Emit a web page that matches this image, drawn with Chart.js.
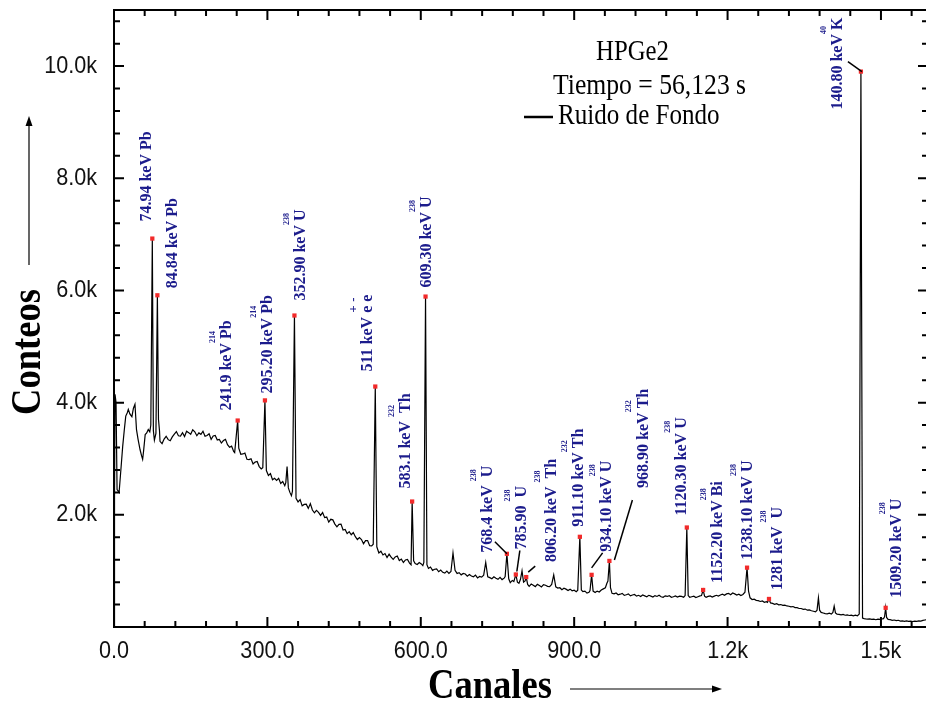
<!DOCTYPE html>
<html>
<head>
<meta charset="utf-8">
<script src="https://cdn.jsdelivr.net/npm/chart.js@4.4.0/dist/chart.umd.min.js"></script>
<style>
  html, body { margin: 0; padding: 0; background: #fff; overflow: hidden; }
  #wrap { width: 940px; height: 703px; position: relative; }
</style>
</head>
<body>
<div id="wrap"><canvas id="espectro"></canvas></div>
<script>
// Espectro de fondo HPGe2: [canal, conteos]
const espectro = [
  [0, 0], [1, 2300], [2, 4150], [4, 4000], [6, 2450], [10, 2400], [13, 2750], [17, 3220],
  [20, 3500], [23, 3760], [26, 3820], [28, 3880], [31, 3800], [35, 3750], [38, 3900], [41, 3970],
  [44, 3520], [47, 3350], [51, 3160], [54, 3050], [56, 2990], [58, 3150], [61, 3430], [64, 3460],
  [67, 3520], [70, 3480], [72, 3600], [74.94, 6925], [77, 3500], [79, 3330], [82, 3450],
  [84.84, 5914], [87, 3700], [89, 3500],
  [90, 3310], [94, 3270], [98, 3350], [102, 3400], [106, 3340], [110, 3320], [114, 3390],
  [118, 3440], [122, 3485], [126, 3410], [130, 3405], [134, 3465], [138, 3395], [142, 3490],
  [146, 3465], [150, 3435], [154, 3515], [158, 3480], [162, 3410], [166, 3460], [170, 3435],
  [174, 3490], [178, 3400], [182, 3415], [186, 3445], [190, 3345], [194, 3405], [198, 3415],
  [202, 3335], [206, 3345], [210, 3280], [214, 3325], [218, 3345], [222, 3250], [226, 3205],
  [230, 3225], [234, 3130], [236, 3110], [238, 3300], [241.9, 3681],
  [244, 3190], [248, 3080], [252, 3085], [256, 3100], [260, 2990], [264, 2985], [268, 3000],
  [272, 2905], [276, 2940], [280, 2950], [284, 2860], [288, 2820], [291, 2840], [295.2, 4040],
  [298, 2790], [302, 2700], [306, 2735], [310, 2625], [314, 2650], [318, 2615], [322, 2650],
  [326, 2560], [330, 2595], [334, 2520], [336, 2575], [338.5, 2860], [341, 2480], [344, 2400],
  [347, 2340], [349, 2420], [352.9, 5553],
  [356, 2295], [360, 2230], [364, 2270], [368, 2160], [372, 2185], [376, 2190], [380, 2115],
  [384, 2200], [388, 2085], [392, 2035], [396, 2080], [400, 2045], [404, 1990], [408, 2040],
  [412, 1950], [416, 1960], [420, 1870], [424, 1920], [428, 1910], [432, 1835], [436, 1785],
  [440, 1830], [444, 1835], [448, 1730], [452, 1740], [456, 1665], [460, 1700], [464, 1645],
  [468, 1685], [472, 1610], [476, 1560], [480, 1595], [484, 1560], [488, 1485], [492, 1540],
  [496, 1540], [500, 1450], [504, 1445], [507, 1475], [511, 4287],
  [514, 1430], [518, 1320], [522, 1350], [526, 1285], [530, 1310], [534, 1240], [538, 1300],
  [542, 1245], [546, 1205], [550, 1250], [554, 1265], [558, 1185], [562, 1210], [566, 1150],
  [570, 1195], [574, 1205], [578, 1140], [581, 1110], [583.1, 2237],
  [586, 1180], [589, 1130], [593, 1115], [597, 1150], [601, 1125], [604, 1095], [606, 1150],
  [609.3, 5891],
  [612, 1110], [615, 1045], [619, 1070], [623, 1010], [627, 1030], [631, 1035], [635, 985],
  [639, 1015], [643, 975], [647, 960], [651, 995], [655, 955], [659, 990], [663, 1320],
  [667, 1010], [671, 955], [675, 970], [679, 930], [683, 955], [687, 945], [691, 905],
  [695, 935], [699, 910], [703, 895], [707, 925], [711, 875], [715, 900], [719, 890],
  [723, 925], [727, 1150], [731, 895], [735, 880], [739, 860], [743, 895], [747, 870],
  [751, 850], [755, 885], [759, 845], [763, 870], [765, 900], [768.4, 1305], [772, 860],
  [775, 790], [779, 830], [782, 810], [785.9, 936], [789, 800], [792, 780], [795, 850],
  [798, 1000], [801, 800], [804, 820], [806.2, 890],
  [809, 760], [812, 725], [816, 765], [820, 745], [824, 720], [828, 760], [832, 740],
  [836, 715], [840, 755], [844, 745], [848, 725], [852, 720], [856, 760], [860, 930],
  [864, 715], [868, 695], [872, 700], [876, 665], [880, 690], [884, 675], [888, 650],
  [892, 675], [896, 645], [900, 655], [904, 630], [907, 655], [911.1, 1608],
  [914, 660], [917, 630], [921, 640], [925, 605], [929, 620], [931, 650], [934.1, 930],
  [937, 640], [941, 615], [945, 640], [949, 625], [953, 660], [957, 680], [961, 700],
  [964, 780], [966, 820], [968.9, 1178], [971, 700], [974, 600],
  [978, 590], [982, 605], [986, 575], [990, 585], [994, 600], [998, 565], [1002, 575],
  [1006, 590], [1010, 555], [1014, 570], [1018, 580], [1022, 550], [1026, 565], [1030, 545],
  [1034, 570], [1038, 555], [1042, 540], [1046, 565], [1050, 550], [1054, 535], [1058, 560],
  [1062, 545], [1066, 565], [1070, 540], [1074, 530], [1078, 555], [1082, 545], [1086, 560],
  [1090, 530], [1094, 540], [1098, 555], [1102, 535], [1106, 550], [1110, 545], [1114, 530],
  [1117, 560], [1120.3, 1774],
  [1123, 560], [1126, 530], [1130, 540], [1134, 550], [1138, 525], [1142, 540], [1146, 555],
  [1149, 560], [1152.2, 660], [1155, 550], [1158, 530], [1162, 545], [1166, 555], [1170, 535],
  [1174, 550], [1178, 565], [1182, 550], [1186, 570], [1190, 585], [1194, 565], [1198, 590],
  [1202, 600], [1206, 575], [1210, 605], [1214, 590], [1218, 570], [1222, 585], [1226, 560],
  [1230, 580], [1234, 620], [1238.1, 1058], [1241, 640],
  [1244, 520], [1248, 490], [1252, 495], [1256, 475], [1260, 470], [1264, 455], [1268, 465],
  [1272, 440], [1276, 450], [1278, 440], [1281, 500], [1284, 430], [1288, 420], [1292, 405],
  [1296, 415], [1300, 395], [1304, 400], [1308, 385], [1312, 390], [1316, 375], [1320, 370],
  [1324, 360], [1328, 365], [1332, 345], [1336, 345], [1340, 330], [1344, 330], [1348, 315],
  [1352, 320], [1356, 300], [1360, 305], [1364, 290], [1368, 280], [1372, 270], [1375, 300],
  [1377.7, 520], [1380, 300], [1383, 260], [1387, 250], [1391, 240], [1395, 235], [1399, 245],
  [1403, 230], [1406, 260], [1408.5, 371], [1411, 250], [1414, 230], [1418, 225], [1422, 215],
  [1426, 225], [1430, 210], [1434, 215], [1438, 205], [1442, 210], [1446, 200], [1450, 210],
  [1454, 200], [1457.5, 230], [1460.8, 9902], [1464, 160], [1467, 150], [1470, 145],
  [1474, 140], [1478, 145], [1482, 135], [1486, 140], [1490, 130], [1494, 140], [1498, 135],
  [1502, 145], [1505, 150], [1507, 180], [1509.2, 342], [1511, 170], [1514, 135], [1518, 130],
  [1522, 120], [1526, 125], [1530, 115], [1534, 120], [1538, 105], [1542, 110], [1546, 100],
  [1550, 108], [1554, 100], [1558, 106], [1562, 98], [1566, 104], [1570, 100], [1574, 110],
  [1578, 105], [1582, 118], [1586, 125], [1590, 130]
];

// Picos identificados (canal) y su rotulo: texto, superindice, texto...
const energias = [74.94, 84.84, 241.9, 295.2, 352.9, 511, 583.1, 609.3, 768.4, 785.9,
  806.2, 911.1, 934.1, 968.9, 1120.3, 1152.2, 1238.1, 1281, 1460.8, 1509.2];
const rotulos = [
  ['74.94 keV Pb'],
  ['84.84 keV Pb'],
  ['241.9 keV ', '214', 'Pb'],
  ['295.20 keV ', '214', 'Pb'],
  ['352.90 keV ', '238', 'U'],
  ['511 keV e', '+', ' e', '-'],
  ['583.1 keV  ', '232', 'Th'],
  ['609.30 keV ', '238', 'U'],
  ['768.4 keV  ', '238', 'U'],
  ['785.90  ', '238', 'U'],
  ['806.20 keV  ', '238', 'Th'],
  ['911.10 keV ', '232', 'Th'],
  ['934.10 keV ', '238', 'U'],
  ['968.90 keV ', '232', 'Th'],
  ['1120.30 keV ', '238', 'U'],
  ['1152.20 keV ', '238', 'Bi'],
  ['1238.10 keV ', '238', 'U'],
  ['1281 keV  ', '238', 'U'],
  ['140.80 keV ', '40', 'K'],
  ['1509.20 keV ', '238', 'U']
];

const marcasX = [0, 300, 600, 900, 1200, 1500];
const etiquetasX = ['0.0', '300.0', '600.0', '900.0', '1.2k', '1.5k'];
const marcasY = [2000, 4000, 6000, 8000, 10000];
const etiquetasY = ['2.0k', '4.0k', '6.0k', '8.0k', '10.0k'];

// Desplazamiento del rotulo respecto al marcador [dx, dy]
const despl = [
  [-5, -17], [15, -7], [-11, -10], [3, -7], [6, -15], [-7, -15], [-6, -13], [1, -9],
  [-19, -1], [6, -25], [26, -15], [-1, -10], [15, -23], [34, -73], [-5, -12], [15, -7],
  [1, -8], [9, -9], [-23, 38], [11, -10]
];
// Lineas guia: indice del pico, inicio y fin relativos al marcador
const guias = [
  [8, -12, -12, 0, 0],
  [9, 4, -24, 1, -3],
  [10, 9, -11, 2, -5],
  [12, 11, -22, 0, -7],
  [13, 23, -61, 5, -1],
  [18, -13, -10, 1, 0]
];

const AZUL = '#1c1c8c';
const conteo = e => espectro.find(p => p[0] === e)[1];

function texto(ctx, s, x, y, font, align, ang, sx) {
  ctx.save();
  ctx.translate(x, y);
  ctx.rotate(ang || 0);
  ctx.scale(sx || 1, 1);
  ctx.font = font;
  ctx.textAlign = align;
  ctx.textBaseline = 'middle';
  ctx.fillText(s, 0, 0);
  ctx.restore();
}

function flecha(ctx, x1, y1, x2, y2) {
  const a = Math.atan2(y2 - y1, x2 - x1);
  ctx.beginPath();
  ctx.moveTo(x1, y1);
  ctx.lineTo(x2 - 8 * Math.cos(a), y2 - 8 * Math.sin(a));
  ctx.stroke();
  ctx.save();
  ctx.translate(x2, y2);
  ctx.rotate(a);
  ctx.beginPath();
  ctx.moveTo(0, 0);
  ctx.lineTo(-10, -3.5);
  ctx.lineTo(-10, 3.5);
  ctx.closePath();
  ctx.fill();
  ctx.restore();
}

// Marco con marcas hacia dentro en los cuatro lados
const marco = {
  id: 'marco',
  afterDraw(chart) {
    const { ctx, chartArea: a, scales: { x, y } } = chart;
    ctx.save();
    ctx.strokeStyle = '#000';
    ctx.lineWidth = 2;
    ctx.strokeRect(a.left, a.top, a.right - a.left, a.bottom - a.top);
    ctx.beginPath();
    x.ticks.forEach(t => {
      const px = x.getPixelForValue(t.value);
      const l = t.value % 300 === 0 ? 10 : 6;
      ctx.moveTo(px, a.bottom); ctx.lineTo(px, a.bottom - l);
      ctx.moveTo(px, a.top); ctx.lineTo(px, a.top + l);
    });
    y.ticks.forEach(t => {
      const py = y.getPixelForValue(t.value);
      const l = t.value % 2000 === 0 ? 10 : 6;
      ctx.moveTo(a.left, py); ctx.lineTo(a.left + l, py);
      ctx.moveTo(a.right, py); ctx.lineTo(a.right - l, py);
    });
    ctx.stroke();

    ctx.fillStyle = '#111';
    const fuente = '24px "Liberation Sans"';
    marcasX.forEach((v, i) => texto(ctx, etiquetasX[i], x.getPixelForValue(v), a.bottom + 24, fuente, 'center', 0, 0.9));
    marcasY.forEach((v, i) => texto(ctx, etiquetasY[i], a.left - 17, y.getPixelForValue(v), fuente, 'right', 0, 0.9));

    // titulos de ejes con flechas
    ctx.fillStyle = '#000';
    texto(ctx, 'Canales', 490, 687, 'bold 42px "Liberation Serif"', 'center', 0, 0.87);
    texto(ctx, 'Conteos', 29, 352, 'bold 42px "Liberation Serif"', 'center', -Math.PI / 2, 0.87);
    ctx.lineWidth = 1.2;
    flecha(ctx, 570, 689, 722, 689);
    flecha(ctx, 29, 265, 29, 116);

    // encabezado y leyenda
    const serif = '28.5px "Liberation Serif"';
    texto(ctx, 'HPGe2', 596, 53, serif, 'left', 0, 0.87);
    texto(ctx, 'Tiempo = 56,123 s', 553, 87, serif, 'left', 0, 0.9);
    texto(ctx, chart.data.datasets[1].label, 558, 117, serif, 'left', 0, 0.88);
    ctx.lineWidth = 2.5;
    ctx.beginPath();
    ctx.moveTo(524, 117); ctx.lineTo(553, 117);
    ctx.stroke();
    ctx.restore();
  }
};

// Rotulos verticales de los picos
const anotaciones = {
  id: 'anotaciones',
  afterDatasetsDraw(chart) {
    const { ctx, scales: { x, y } } = chart;
    ctx.save();
    ctx.strokeStyle = '#000';
    ctx.lineWidth = 1.5;
    guias.forEach(([i, x1, y1, x2, y2]) => {
      const px = x.getPixelForValue(energias[i]);
      const py = y.getPixelForValue(conteo(energias[i]));
      ctx.beginPath();
      ctx.moveTo(px + x1, py + y1);
      ctx.lineTo(px + x2, py + y2);
      ctx.stroke();
    });
    ctx.fillStyle = AZUL;
    energias.forEach((e, i) => {
      const px = x.getPixelForValue(e) + despl[i][0];
      const py = y.getPixelForValue(conteo(e)) + despl[i][1];
      ctx.save();
      ctx.translate(px, py);
      ctx.rotate(-Math.PI / 2);
      ctx.textBaseline = 'middle';
      ctx.textAlign = 'left';
      let pos = 0;
      rotulos[i].forEach((parte, k) => {
        if (k % 2 === 1) {
          // los signos de carga se ven mas grandes que los numeros masicos
          const signo = parte === '+' || parte === '-';
          ctx.font = signo ? 'bold 13px "Liberation Serif"' : 'bold 8px "Liberation Serif"';
          ctx.fillText(parte, signo ? pos - 7 : pos - 4, signo ? -15 : -14);
        } else {
          ctx.font = 'bold 16px "Liberation Serif"';
          ctx.fillText(parte, pos, 0);
          pos += ctx.measureText(parte).width;
        }
      });
      ctx.restore();
    });
    ctx.restore();
  }
};

new Chart(document.getElementById('espectro'), {
  type: 'scatter',
  data: {
    datasets: [
      {
        label: 'Picos',
        data: energias.map(e => ({ x: e, y: conteo(e) })),
        pointStyle: 'rect',
        pointRadius: 3,
        pointHoverRadius: 3,
        backgroundColor: '#f22a2a',
        borderWidth: 0,
        order: 0
      },
      {
        label: 'Ruido de Fondo',
        data: espectro.map(([c, n]) => ({ x: c, y: n })),
        showLine: true,
        borderColor: '#000',
        borderWidth: 1.2,
        pointRadius: 0,
        tension: 0,
        order: 1
      }
    ]
  },
  options: {
    responsive: true,
    maintainAspectRatio: false,
    animation: false,
    events: [],
    layout: { padding: { top: 10, right: 12, left: 0, bottom: 0 } },
    plugins: { legend: { display: false }, tooltip: { enabled: false } },
    scales: {
      x: {
        type: 'linear', min: 0, max: 1592,
        border: { display: false }, grid: { display: false },
        ticks: { display: false, stepSize: 60, includeBounds: false },
        afterFit: s => { s.height = 76; }
      },
      y: {
        min: 0, max: 11000,
        border: { display: false }, grid: { display: false },
        ticks: { display: false, stepSize: 400, includeBounds: false },
        afterFit: s => { s.width = 114; }
      }
    }
  },
  plugins: [marco, anotaciones]
});
</script>
</body>
</html>
